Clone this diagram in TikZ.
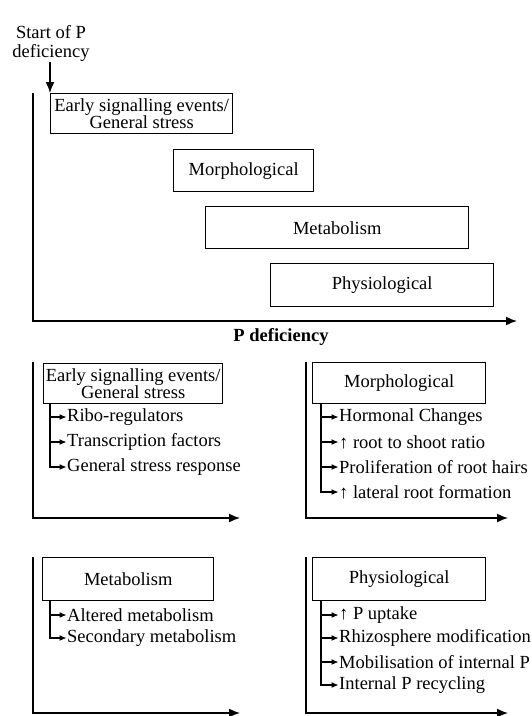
\documentclass[tikz,border=0pt]{standalone}
\usepackage{fontspec}
\setmainfont{Liberation Serif}
\usetikzlibrary{arrows.meta}
\begin{document}
\begin{tikzpicture}[x=1pt,y=-1pt,
  every node/.style={font=\fontsize{18.5}{17}\selectfont},
  box/.style={draw, line width=1.4pt, inner sep=0pt, align=center, anchor=north west},
  item/.style={anchor=west, inner sep=0pt},
  axis/.style={line width=1.5pt, -{Latex[length=11pt,width=9pt]}},
  feed/.style={line width=1.1pt, shorten >=0.5pt, -{Latex[length=7pt,width=6pt]}},
]
\useasboundingbox (0,0) rectangle (532,716);

% ---- time course of the responses ----
\node[align=center, inner sep=1pt, font=\fontsize{18.5}{19}\selectfont] (start) at (51,43) {Start of P\\deficiency};
\node[box, minimum width=182pt, minimum height=40pt] (t1) at (50,93) {Early signalling events/\\General stress};
\node[box, minimum width=140pt, minimum height=42pt] (t2) at (173,149) {Morphological};
\node[box, minimum width=263pt, minimum height=42pt] (t3) at (205,206) {Metabolism};
\node[box, minimum width=223pt, minimum height=43pt] (t4) at (270,263) {Physiological};
\draw[axis] (start.south -| t1.north west) -- (t1.north west);

\coordinate (ytop) at (33,93);
\coordinate (orig) at (33,321);
\coordinate (xend) at (517,321);
\draw[axis] (ytop) -- (orig) -- (xend);
\node[font=\bfseries\fontsize{18.5}{17}\selectfont] (xlab) at (281,337) {P deficiency};

% ---- early signalling ----
\coordinate (aTop) at (33,362);
\coordinate (aO) at (33,518);
\coordinate (aEnd) at (240,518);
\draw[axis] (aTop) -- (aO) -- (aEnd);
\node[box, minimum width=179pt, minimum height=40pt] (a) at (43,363) {Early signalling events/\\General stress};
\coordinate (ab) at ([xshift=7pt]a.south west);
\node[item] (a1) at (67,417) {Ribo-regulators};
\node[item] (a2) at (67,442) {Transcription factors};
\node[item] (a3) at (67,467) {General stress response};
\foreach \i in {a1,a2,a3} \draw[feed] (ab) |- (\i.west);

% ---- morphological ----
\coordinate (bTop) at (306,362);
\coordinate (bO) at (306,518);
\coordinate (bEnd) at (508,518);
\draw[axis] (bTop) -- (bO) -- (bEnd);
\node[box, minimum width=173pt, minimum height=41pt] (b) at (312,362) {Morphological};
\coordinate (bb) at ([xshift=9pt]b.south west);
\node[item] (b1) at (339,417) {Hormonal Changes};
\node[item] (b2) at (339,442) {↑ root to shoot ratio};
\node[item] (b3) at (339,467) {Proliferation of root hairs};
\node[item] (b4) at (339,492) {↑ lateral root formation};
\foreach \i in {b1,b2,b3,b4} \draw[feed] (bb) |- (\i.west);

% ---- metabolism ----
\coordinate (cTop) at (33,557);
\coordinate (cO) at (33,713);
\coordinate (cEnd) at (240,713);
\draw[axis] (cTop) -- (cO) -- (cEnd);
\node[box, minimum width=171pt, minimum height=43pt] (c) at (42,557) {Metabolism};
\coordinate (cb) at ([xshift=8pt]c.south west);
\node[item] (c1) at (67,615) {Altered metabolism};
\node[item] (c2) at (67,638) {Secondary metabolism};
\foreach \i in {c1,c2} \draw[feed] (cb) |- (\i.west);

% ---- physiological ----
\coordinate (dTop) at (306,557);
\coordinate (dO) at (306,713);
\coordinate (dEnd) at (508,713);
\draw[axis] (dTop) -- (dO) -- (dEnd);
\node[box, minimum width=173pt, minimum height=43pt] (d) at (312,557) {Physiological};
\coordinate (db) at ([xshift=9pt]d.south west);
\node[item] (d1) at (339,615) {↑ P uptake};
\node[item] (d2) at (339,638) {Rhizosphere modification};
\node[item] (d3) at (339,662) {Mobilisation of internal P};
\node[item] (d4) at (339,685) {Internal P recycling};
\foreach \i in {d1,d2,d3,d4} \draw[feed] (db) |- (\i.west);
\end{tikzpicture}
\end{document}
